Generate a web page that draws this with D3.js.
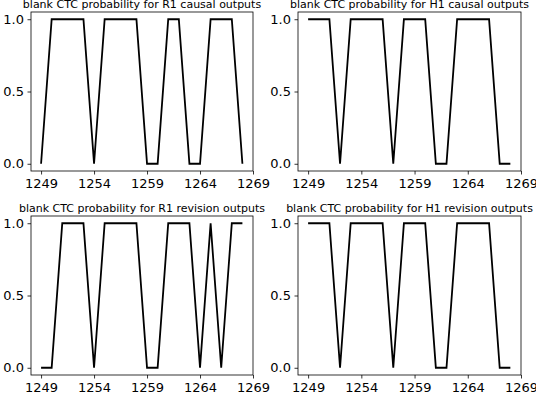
<!DOCTYPE html>
<html>
<head>
<meta charset="utf-8">
<script src="https://cdn.jsdelivr.net/npm/d3@7"></script>
<style>
body { margin: 0; background: #fff; }
svg { display: block; font-family: "DejaVu Sans", sans-serif; }
</style>
</head>
<body>
<div id="chart"></div>
<script>
// frame indices shown on the x axis
var frames = d3.range(1249, 1269);

// blank CTC probability per frame
var r1Causal   = [0,1,1,1,1,0,1,1,1,1,0,0,1,1,0,0,1,1,1,0];
var h1Causal   = [1,1,1,0,1,1,1,1,0,1,1,1,0,0,1,1,1,1,0,0];
var r1Revision = [0,0,1,1,1,0,1,1,1,1,0,0,1,1,1,0,1,0,1,1];
var h1Revision = [1,1,1,0,1,1,1,1,0,1,1,1,0,0,1,1,1,1,0,0];

var titles = [
  "blank CTC probability for R1 causal outputs",
  "blank CTC probability for H1 causal outputs",
  "blank CTC probability for R1 revision outputs",
  "blank CTC probability for H1 revision outputs"
];
var series = [r1Causal, h1Causal, r1Revision, h1Revision];
var xTicks = [1249, 1254, 1259, 1264, 1269];
var yTicks = [0, 0.5, 1];

var width = 536, height = 394;
var cols = [{x0: 31, x1: 253}, {x0: 298, x1: 521}];
var rows = [{y0: 12, y1: 171}, {y0: 216, y1: 375}];

var svg = d3.select("#chart")
  .append("svg")
  .attr("width", width)
  .attr("height", height);

series.forEach(function(vals, i) {
  var c = cols[i % 2], r = rows[Math.floor(i / 2)];

  var x = d3.scaleLinear()
    .domain([1248.05, 1269])
    .range([c.x0, c.x1]);
  var y = d3.scaleLinear()
    .domain([-0.05, 1.05])
    .range([r.y1, r.y0]);

  var g = svg.append("g");

  var line = d3.line()
    .x(function(d, j) { return x(frames[j]); })
    .y(function(d) { return y(d); });

  g.append("path")
    .datum(vals)
    .attr("d", line)
    .attr("fill", "none")
    .attr("stroke", "#000")
    .attr("stroke-width", 1.8)
    .attr("stroke-linejoin", "miter");

  // axes box
  g.append("rect")
    .attr("x", c.x0)
    .attr("y", r.y0)
    .attr("width", c.x1 - c.x0)
    .attr("height", r.y1 - r.y0)
    .attr("fill", "none")
    .attr("stroke", "#000")
    .attr("stroke-width", 0.8);

  var xAxis = g.append("g")
    .attr("transform", "translate(0," + r.y1 + ")")
    .call(d3.axisBottom(x).tickValues(xTicks).tickFormat(d3.format("d"))
      .tickSize(3.5).tickPadding(4).tickSizeOuter(0));
  var yAxis = g.append("g")
    .attr("transform", "translate(" + c.x0 + ",0)")
    .call(d3.axisLeft(y).tickValues(yTicks).tickFormat(d3.format(".1f"))
      .tickSize(3.5).tickPadding(3.5).tickSizeOuter(0));

  [xAxis, yAxis].forEach(function(a) {
    a.select(".domain").remove();
    a.selectAll("line").attr("stroke", "#000").attr("stroke-width", 0.8);
    a.selectAll("text")
      .attr("fill", "#000")
      .style("font-size", "13px")
      .style("font-family", "DejaVu Sans, sans-serif");
  });

  g.append("text")
    .attr("x", (c.x0 + c.x1) / 2)
    .attr("y", r.y0 - 4)
    .attr("text-anchor", "middle")
    .style("font-size", "11px")
    .text(titles[i]);
});
</script>
</body>
</html>
